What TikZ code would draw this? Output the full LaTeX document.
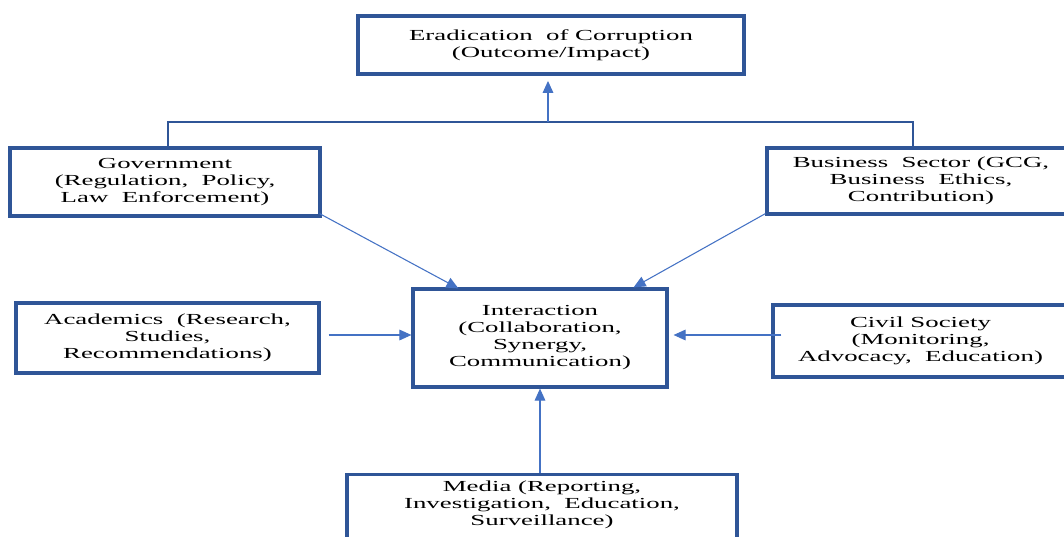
\documentclass[tikz,border=0pt]{standalone}
\usepackage{fontspec}
\setmainfont{Liberation Serif}[FakeStretch=1.75]
\usepackage{xcolor}
\usetikzlibrary{arrows.meta}
\definecolor{boxblue}{HTML}{2F5597}
\definecolor{lineblue}{HTML}{4472C4}

\begin{document}
\begin{tikzpicture}[x=0.75pt, y=-0.75pt,
      box/.style={draw=boxblue, line width=2.4pt, rectangle, align=center, fill=white,
        font=\fontsize{11.5}{12.75}\selectfont},
      arr/.style={draw=lineblue, line width=0.8pt, -{Triangle[length=9pt, width=8pt]}},
      bracket/.style={draw=boxblue, line width=1.8pt}]
    \useasboundingbox (0,0) rectangle (1064,536);
    \clip (0,0) rectangle (1064,536);

    \node[box, minimum width=289.5pt, minimum height=43.5pt] (outcome) at (551,45) {Eradication \ of Corruption\\ (Outcome/Impact)};
    \node[box, minimum width=232.5pt, minimum height=51pt] (gov) at (165,182) {Government\\ (Regulation, \ Policy,\\ Law \ Enforcement)};
    \node[box, minimum width=231pt, minimum height=49.5pt] (biz) at (921,181) {Business \ Sector (GCG,\\ Business \ Ethics,\\ Contribution)};
    \node[box, minimum width=227.25pt, minimum height=52.5pt] (acad) at (167.5,338) {Academics \ (Research,\\ Studies,\\ Recommendations)};
    \node[box, minimum width=190.5pt, minimum height=73.5pt] (inter) at (540,338) {Interaction\\ (Collaboration,\\ Synergy,\\ Communication)};
    \node[box, minimum width=221.25pt, minimum height=54pt] (civil) at (920.5,341) {Civil Society\\ (Monitoring,\\ Advocacy, \ Education)};
    \node[box, minimum width=292.5pt, anchor=north, inner ysep=4.5pt, text depth=60pt] (media) at (542,473) {Media (Reporting,\\ Investigation, \ Education,\\ Surveillance)};

    \coordinate (bl) at (168,122);
    \coordinate (br) at (913,122);
    \coordinate (bm) at (548,122);

    \draw[bracket] (gov.north -| bl) -- (bl) -- (br) -- (biz.north -| br);
    \draw[arr, shorten >=4pt] (bm) -- (outcome.south -| bm);

    \draw[arr] ([shift={(-2,-4)}]gov.south east) -- ([shift={(47,1)}]inter.north west);
    \draw[arr] ([shift={(0,-2)}]biz.south west) -- ([shift={(-35,0)}]inter.north east);
    \draw[arr] ([shift={(8,-3)}]acad.east) -- ([shift={(0,-3)}]inter.west);
    \draw[arr] ([shift={(10,-3)}]civil.west |- inter.east) -- ([shift={(5,-3)}]inter.east);
    \draw[arr] (media.north -| inter.south) -- (inter.south);
  \end{tikzpicture}
\end{document}
